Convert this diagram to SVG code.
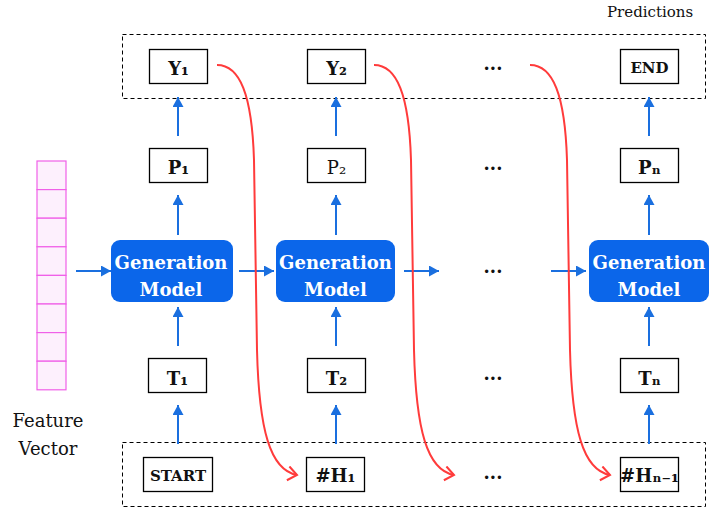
<svg xmlns="http://www.w3.org/2000/svg" width="711" height="507" viewBox="0 0 711 507">
<style>
.box{fill:#fff;stroke:#000;stroke-width:1.3}
.dash{fill:none;stroke:#000;stroke-width:1;stroke-dasharray:4,3}
.gm{fill:#0b66ea}
.cell{fill:#fdf0fd;stroke:#f060e8;stroke-width:1.2}
.lbl{font-family:"DejaVu Serif",serif;font-weight:bold;font-size:18px;fill:#111;text-anchor:middle}
.sm{font-size:15px}
.reg{font-weight:normal}
.gmt{font-family:"DejaVu Serif",serif;font-weight:bold;font-size:18px;fill:#fff;text-anchor:middle}
.cap{font-family:"DejaVu Serif",serif;fill:#111}
.ba{stroke:#1a6fdf;stroke-width:2;fill:none;marker-end:url(#bh)}
.ra{stroke:#ff3b3b;stroke-width:2;fill:none;marker-end:url(#rh)}
</style>
<defs>
<marker id="bh" markerUnits="userSpaceOnUse" markerWidth="12" markerHeight="12" refX="10" refY="5.5" orient="auto">
<path d="M0,0 L10,5.5 L0,11 Z" fill="#1a6fdf"/>
</marker>
<marker id="rh" markerUnits="userSpaceOnUse" markerWidth="14" markerHeight="20" refX="10" refY="8" orient="auto">
<path d="M1,1 L10,8 L1,15" fill="none" stroke="#ff3b3b" stroke-width="2"/>
</marker>
</defs>
<rect class="dash" x="122.5" y="34.5" width="583" height="64"/>
<rect class="dash" x="122.5" y="442.5" width="583" height="64"/>
<text class="cap" x="607" y="17" font-size="15">Predictions</text>
<g id="feature-vector">
<rect class="cell" x="37" y="161" width="29" height="28.6"/>
<rect class="cell" x="37" y="189.6" width="29" height="28.6"/>
<rect class="cell" x="37" y="218.2" width="29" height="28.6"/>
<rect class="cell" x="37" y="246.8" width="29" height="28.6"/>
<rect class="cell" x="37" y="275.4" width="29" height="28.6"/>
<rect class="cell" x="37" y="304" width="29" height="28.6"/>
<rect class="cell" x="37" y="332.6" width="29" height="28.6"/>
<rect class="cell" x="37" y="361.2" width="29" height="28.6"/>
<text class="cap" x="48" y="427" font-size="18" text-anchor="middle">Feature</text>
<text class="cap" x="48" y="455" font-size="18" text-anchor="middle">Vector</text>
</g>
<g id="Y1"><rect class="box" x="149.5" y="49.5" width="58" height="34"/><text class="lbl" x="178.5" y="75">Y₁</text></g>
<g id="Y2"><rect class="box" x="307.5" y="49.5" width="58" height="34"/><text class="lbl" x="336.5" y="75">Y₂</text></g>
<g id="dots-y"><text class="lbl" x="493" y="70">...</text></g>
<g id="END"><rect class="box" x="620.5" y="49.5" width="58" height="34"/><text class="lbl sm" x="649.5" y="73">END</text></g>
<g id="P1"><rect class="box" x="149.5" y="148.5" width="58" height="34"/><text class="lbl" x="178.5" y="174">P₁</text></g>
<g id="P2"><rect class="box" x="307.5" y="148.5" width="58" height="34"/><text class="lbl reg" x="336.5" y="174">P₂</text></g>
<g id="dots-p"><text class="lbl" x="493" y="170">...</text></g>
<g id="Pn"><rect class="box" x="620.5" y="148.5" width="58" height="34"/><text class="lbl" x="649.5" y="174">Pₙ</text></g>
<g id="GM1"><rect class="gm" x="111" y="240" width="122" height="62" rx="9"/><text class="gmt" x="171" y="269">Generation</text><text class="gmt" x="171" y="296">Model</text></g>
<g id="GM2"><rect class="gm" x="276" y="240" width="119" height="62" rx="9"/><text class="gmt" x="335.5" y="269">Generation</text><text class="gmt" x="335.5" y="296">Model</text></g>
<g id="dots-gm"><text class="lbl" x="493" y="273">...</text></g>
<g id="GM3"><rect class="gm" x="589" y="240" width="120" height="62" rx="9"/><text class="gmt" x="649" y="269">Generation</text><text class="gmt" x="649" y="296">Model</text></g>
<g id="T1"><rect class="box" x="148.5" y="358.5" width="58" height="34"/><text class="lbl" x="177.5" y="385">T₁</text></g>
<g id="T2"><rect class="box" x="307.5" y="358.5" width="58" height="34"/><text class="lbl" x="336.5" y="385">T₂</text></g>
<g id="dots-t"><text class="lbl" x="493" y="380">...</text></g>
<g id="Tn"><rect class="box" x="620.5" y="358.5" width="58" height="34"/><text class="lbl" x="649.5" y="385">Tₙ</text></g>
<g id="START"><rect class="box" x="143.5" y="457.5" width="69" height="34"/><text class="lbl sm" x="178" y="481">START</text></g>
<g id="H1"><rect class="box" x="306.5" y="457.5" width="58" height="34"/><text class="lbl" x="335.5" y="482">#H₁</text></g>
<g id="dots-h"><text class="lbl" x="493" y="479">...</text></g>
<g id="Hn1"><rect class="box" x="620.5" y="457.5" width="58" height="34"/><text class="lbl" x="649.5" y="482">#Hₙ₋₁</text></g>
<g id="connectors">
<line class="ba" x1="178" y1="444" x2="178" y2="405"/>
<line class="ba" x1="178" y1="346" x2="178" y2="307"/>
<line class="ba" x1="178" y1="235" x2="178" y2="195"/>
<line class="ba" x1="178" y1="136" x2="178" y2="97"/>
<line class="ba" x1="336" y1="444" x2="336" y2="405"/>
<line class="ba" x1="336" y1="346" x2="336" y2="307"/>
<line class="ba" x1="336" y1="235" x2="336" y2="195"/>
<line class="ba" x1="336" y1="136" x2="336" y2="97"/>
<line class="ba" x1="649" y1="444" x2="649" y2="405"/>
<line class="ba" x1="649" y1="346" x2="649" y2="307"/>
<line class="ba" x1="649" y1="235" x2="649" y2="195"/>
<line class="ba" x1="649" y1="136" x2="649" y2="97"/>
<line class="ba" x1="76" y1="271" x2="111" y2="271"/>
<line class="ba" x1="239" y1="271" x2="274" y2="271"/>
<line class="ba" x1="404" y1="271" x2="439" y2="271"/>
<line class="ba" x1="551" y1="271" x2="586" y2="271"/>
<path class="ra" d="M217,65 C240,65 252,95 254,160 L257,350 C259,430 270,470 297,475"/>
<path class="ra" d="M374,65 C397,65 409,95 411,160 L414,350 C416,430 427,470 454,475"/>
<path class="ra" d="M530,65 C553,65 565,95 567,160 L570,350 C572,430 583,470 610,475"/>
</g>
</svg>
